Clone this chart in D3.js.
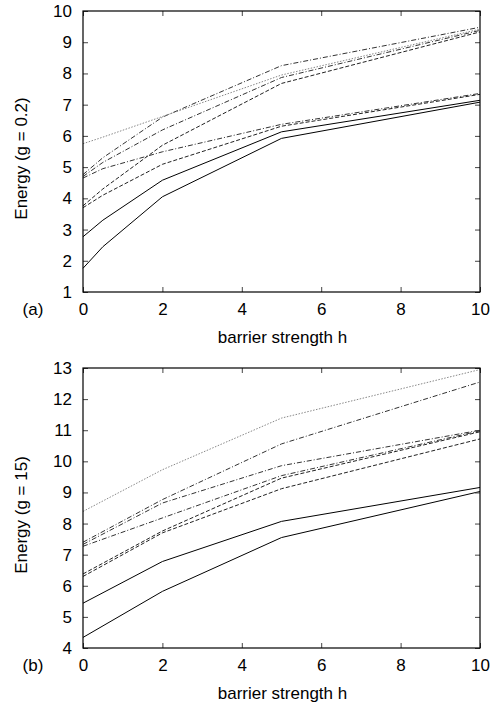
<!DOCTYPE html>
<html>
<head>
<meta charset="utf-8">
<script src="https://cdn.jsdelivr.net/npm/d3@7"></script>
<style>
  body { margin: 0; background: #fff; }
  svg { display: block; }
  text { font-family: "Liberation Sans", Arial, sans-serif; }
</style>
</head>
<body>
<svg id="chart" width="496" height="704"></svg>
<script>
// panel (a): g = 0.2
const hA = [0, 0.5, 2, 5, 10];
const solid1A   = [1.76, 2.45, 4.05, 5.92, 7.08];
const solid2A   = [2.77, 3.30, 4.58, 6.13, 7.14];
const dashedBA  = [3.70, 4.10, 5.09, 6.31, 7.33];
const dashedAA  = [3.76, 4.30, 5.70, 7.68, 9.33];
const dashdot3A = [4.65, 4.95, 5.49, 6.37, 7.36];
const dashdot2A = [4.70, 5.15, 6.19, 7.87, 9.38];
const dashdot1A = [4.76, 5.30, 6.60, 8.25, 9.48];
const dottedA   = [5.75, 5.96, 6.62, 7.95, 9.42];

// panel (b): g = 15
const hB = [0, 2, 5, 10];
const solid1B   = [4.34, 5.82, 7.55, 9.03];
const solid2B   = [5.44, 6.78, 8.07, 9.16];
const dashedBB  = [6.30, 7.70, 9.12, 10.72];
const dashedAB  = [6.38, 7.76, 9.46, 10.95];
const dashdot3B = [7.27, 8.18, 9.54, 10.98];
const dashdot2B = [7.33, 8.66, 9.86, 11.00];
const dashdot1B = [7.40, 8.77, 10.56, 12.55];
const dottedB   = [8.39, 9.73, 11.39, 12.95];

const xTicks = [0, 2, 4, 6, 8, 10];
const yTicksA = d3.range(1, 11);
const yTicksB = d3.range(4, 14);

const styles = {
  solid:   { color: "#000", dash: null },
  dashed:  { color: "#222", dash: "4,2" },
  dashdot: { color: "#333", dash: "5,2,1,2" },
  dotted:  { color: "#888", dash: "1.5,1.5" }
};

const svg = d3.select("#chart");
const left = 83, right = 480;

function drawPanel(p)
{
  const x = d3.scaleLinear().domain([0, 10]).range([left, right]);
  const y = d3.scaleLinear().domain(p.yDomain).range([p.bottom, p.top]);
  const g = svg.append("g");

  const line = d3.line().x(d => x(d[0])).y(d => y(d[1]));
  for (const s of p.series)
  {
    const st = styles[s.type];
    g.append("path")
      .datum(p.h.map((h, i) => [h, s.values[i]]))
      .attr("d", line)
      .attr("fill", "none")
      .attr("stroke", st.color)
      .attr("stroke-width", 1)
      .attr("stroke-dasharray", st.dash);
  }

  // inward ticks on all four sides
  const bottomAxis = g.append("g")
    .attr("transform", `translate(0,${p.bottom})`)
    .call(d3.axisBottom(x).tickValues(xTicks).tickSize(-5).tickPadding(11));
  const leftAxis = g.append("g")
    .attr("transform", `translate(${left},0)`)
    .call(d3.axisLeft(y).tickValues(p.yTicks).tickSize(-5).tickPadding(11));
  const topAxis = g.append("g")
    .attr("transform", `translate(0,${p.top})`)
    .call(d3.axisTop(x).tickValues(xTicks).tickSize(-5).tickFormat(""));
  const rightAxis = g.append("g")
    .attr("transform", `translate(${right},0)`)
    .call(d3.axisRight(y).tickValues(p.yTicks).tickSize(-5).tickFormat(""));

  for (const a of [bottomAxis, leftAxis, topAxis, rightAxis])
  {
    a.select(".domain").remove();
    a.selectAll(".tick line").attr("stroke", "#444");
    a.selectAll("text").attr("font-size", 17).attr("fill", "#000")
      .attr("font-family", "'Liberation Sans', Arial, sans-serif");
  }

  g.append("rect")
    .attr("x", left).attr("y", p.top)
    .attr("width", right - left).attr("height", p.bottom - p.top)
    .attr("fill", "none").attr("stroke", "#000").attr("stroke-width", 1.2);

  g.append("text")
    .attr("x", 33).attr("y", p.bottom + 23)
    .attr("text-anchor", "middle").attr("font-size", 17)
    .text(p.tag);

  g.append("text")
    .attr("x", (left + right) / 2 + 1).attr("y", p.bottom + 51)
    .attr("text-anchor", "middle").attr("font-size", 17)
    .text("barrier strength h");

  g.append("text")
    .attr("transform", `translate(27,${(p.top + p.bottom) / 2 + 7}) rotate(-90)`)
    .attr("text-anchor", "middle").attr("font-size", 17)
    .text(p.yLabel);
}

function seriesOf(vals)
{
  return [
    { type: "solid", values: vals[0] },
    { type: "solid", values: vals[1] },
    { type: "dashed", values: vals[2] },
    { type: "dashed", values: vals[3] },
    { type: "dashdot", values: vals[4] },
    { type: "dashdot", values: vals[5] },
    { type: "dashdot", values: vals[6] },
    { type: "dotted", values: vals[7] }
  ];
}

drawPanel({
  top: 11, bottom: 292, yDomain: [1, 10], yTicks: yTicksA, h: hA,
  tag: "(a)", yLabel: "Energy (g = 0.2)",
  series: seriesOf([solid1A, solid2A, dashedBA, dashedAA, dashdot3A, dashdot2A, dashdot1A, dottedA])
});

drawPanel({
  top: 368, bottom: 648, yDomain: [4, 13], yTicks: yTicksB, h: hB,
  tag: "(b)", yLabel: "Energy (g = 15)",
  series: seriesOf([solid1B, solid2B, dashedBB, dashedAB, dashdot3B, dashdot2B, dashdot1B, dottedB])
});
</script>
</body>
</html>
